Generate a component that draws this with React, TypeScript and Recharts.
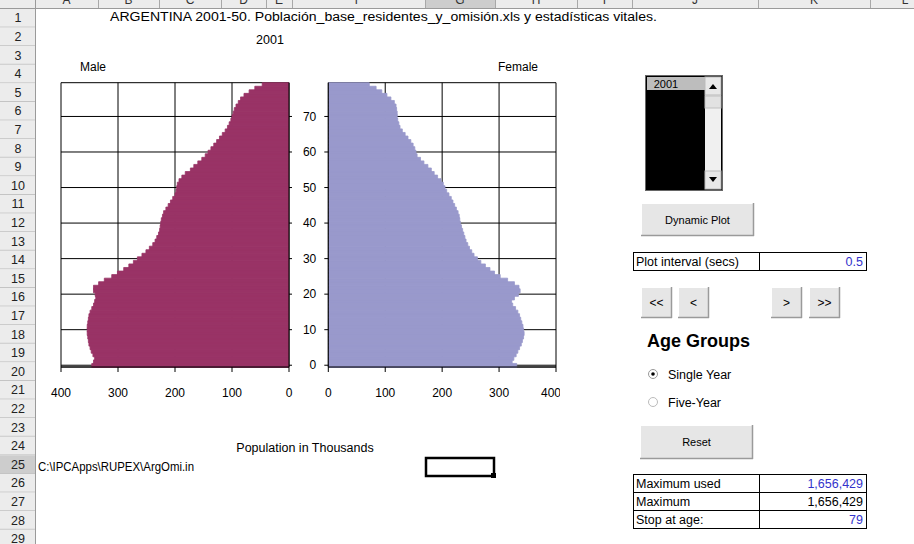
import { Bar, BarChart, CartesianGrid, XAxis, YAxis } from 'recharts';

// Single-year ages, bottom (0) to top (79)
const AGES = [
  0, 1, 2, 3, 4, 5, 6, 7, 8, 9, 10, 11, 12, 13, 14, 15, 16, 17, 18, 19,
  20, 21, 22, 23, 24, 25, 26, 27, 28, 29, 30, 31, 32, 33, 34, 35, 36, 37, 38, 39,
  40, 41, 42, 43, 44, 45, 46, 47, 48, 49, 50, 51, 52, 53, 54, 55, 56, 57, 58, 59,
  60, 61, 62, 63, 64, 65, 66, 67, 68, 69, 70, 71, 72, 73, 74, 75, 76, 77, 78, 79,
];

// Population in thousands
const MALE = [
  346, 343, 341, 344, 347, 349, 351, 352, 353, 354, 354, 354, 353, 352, 351, 349, 346, 343, 341, 339,
  340, 343, 343, 334, 324, 311, 301, 290, 281, 273, 266, 258, 251, 245, 239, 235, 232, 229, 227, 226,
  225, 224, 222, 220, 216, 212, 208, 204, 200, 198, 197, 196, 193, 188, 182, 173, 167, 160, 153, 147,
  142, 137, 132, 127, 122, 117, 112, 108, 105, 102, 100, 98, 96, 93, 89, 85, 79, 70, 60, 47,
];

const FEMALE = [
  331, 323, 326, 330, 333, 336, 339, 341, 343, 344, 343, 342, 340, 338, 336, 333, 329, 324, 322, 327,
  334, 337, 335, 327, 315, 302, 292, 284, 276, 268, 262, 256, 252, 248, 245, 242, 240, 238, 236, 234,
  232, 231, 230, 228, 225, 222, 219, 216, 212, 208, 205, 202, 198, 192, 186, 181, 175, 168, 162, 156,
  154, 152, 149, 145, 140, 135, 130, 126, 124, 122, 121, 121, 120, 119, 116, 110, 103, 94, 84, 72,
];

const POP_TICKS = [0, 100, 200, 300, 400];
const AGE_TICKS = [0, 10, 20, 30, 40, 50, 60, 70];

const COLUMNS = ['A', 'B', 'C', 'D', 'E', 'F', 'G', 'H', 'I', 'J', 'K', 'L'];
const COL_EDGES = [35, 98, 159, 221, 266, 292, 425, 495, 577, 632, 758, 870, 940];
const ROW_COUNT = 29;
const ROW_H = 18.6;
const HEAD_H = 8;

const FONT = '"Liberation Sans", Arial, sans-serif';
const MALE_FILL = '#993366';
const FEMALE_FILL = '#9999cc';
const BLUE = '#3333cc';

const rows = AGES.map((age, i) => ({ age, male: MALE[i], female: FEMALE[i] }));

function Button({ x, y, w, h, label, size = 11 }: { x: number; y: number; w: number; h: number; label: string; size?: number }) {
  return (
    <g>
      <rect x={x} y={y} width={w} height={h} fill="#e6e6e6" />
      <line x1={x} y1={y + 0.5} x2={x + w} y2={y + 0.5} stroke="#ffffff" />
      <line x1={x + 0.5} y1={y} x2={x + 0.5} y2={y + h} stroke="#ffffff" />
      <line x1={x} y1={y + h - 0.5} x2={x + w} y2={y + h - 0.5} stroke="#9a9a9a" strokeWidth={1.5} />
      <line x1={x + w - 0.5} y1={y} x2={x + w - 0.5} y2={y + h} stroke="#9a9a9a" strokeWidth={1.5} />
      <text x={x + w / 2} y={y + h / 2} textAnchor="middle" dominantBaseline="central" fontSize={size} fill="#000">
        {label}
      </text>
    </g>
  );
}

function TwoColTable({ y, labels, values, colors }: { y: number; labels: string[]; values: string[]; colors: string[] }) {
  const rowH = 18;
  return (
    <g>
      <rect x={633.5} y={y + 0.5} width={233} height={rowH * labels.length} fill="#fff" stroke="#000" />
      <line x1={759.5} y1={y} x2={759.5} y2={y + rowH * labels.length} stroke="#000" />
      {labels.map((l, i) => (
        <g key={l}>
          {i > 0 && <line x1={633} y1={y + i * rowH + 0.5} x2={866} y2={y + i * rowH + 0.5} stroke="#000" />}
          <text x={636} y={y + i * rowH + 14} fontSize={12.5} fill="#000">{l}</text>
          <text x={863} y={y + i * rowH + 14} fontSize={12.5} textAnchor="end" fill={colors[i]}>{values[i]}</text>
        </g>
      ))}
    </g>
  );
}

function Sheet() {
  const rowNums = Array.from({ length: ROW_COUNT }, (_, i) => i + 1);
  return (
    <svg width={914} height={544} style={{ position: 'absolute', left: 0, top: 0, fontFamily: FONT }}>
      <rect x={0} y={0} width={914} height={544} fill="#fff" />
      {/* column header strip, scrolled so only the bottom of the letters shows */}
      {COLUMNS.map((c, i) => (
        <g key={c}>
          <rect x={COL_EDGES[i]} y={-10} width={COL_EDGES[i + 1] - COL_EDGES[i]} height={18}
            fill={c === 'G' ? '#cdcdcd' : '#ececec'} />
          <line x1={COL_EDGES[i] + 0.5} y1={-10} x2={COL_EDGES[i] + 0.5} y2={HEAD_H} stroke="#a8a8a8" />
          <text x={(COL_EDGES[i] + COL_EDGES[i + 1]) / 2} y={4} textAnchor="middle" fontSize={12} fill="#333">{c}</text>
        </g>
      ))}
      <rect x={0} y={-10} width={35} height={18} fill="#ececec" />
      <line x1={0} y1={HEAD_H + 0.5} x2={914} y2={HEAD_H + 0.5} stroke="#9a9a9a" />
      {/* row header column */}
      {rowNums.map((r) => {
        const y0 = HEAD_H + (r - 1) * ROW_H;
        return (
          <g key={r}>
            <rect x={0} y={y0 + 1} width={35} height={ROW_H} fill={r === 25 ? '#cdcdcd' : '#ececec'} />
            <line x1={0} y1={y0 + ROW_H + 0.5} x2={35} y2={y0 + ROW_H + 0.5} stroke="#c4c4c4" />
            <text x={18} y={y0 + ROW_H / 2 + 1} textAnchor="middle" dominantBaseline="central" fontSize={12.5} fill="#222">{r}</text>
          </g>
        );
      })}
      <line x1={35.5} y1={-10} x2={35.5} y2={544} stroke="#9a9a9a" />

      {/* titles */}
      <text x={110} y={21} fontSize={12.5} textLength={547} lengthAdjust="spacingAndGlyphs" fill="#000">
        ARGENTINA 2001-50. Población_base_residentes_y_omisión.xls y estadísticas vitales.
      </text>
      <text x={270} y={44} textAnchor="middle" fontSize={12.5} fill="#000">2001</text>
      <text x={80} y={71} fontSize={12} fill="#000">Male</text>
      <text x={498} y={71} fontSize={12} fill="#000">Female</text>
      <text x={305} y={452} textAnchor="middle" fontSize={12.5} fill="#000">Population in Thousands</text>
      <text x={38} y={471} fontSize={12.5} textLength={156} lengthAdjust="spacingAndGlyphs" fill="#000">C:\IPCApps\RUPEX\ArgOmi.in</text>

      {/* active cell */}
      <rect x={426} y={458} width={68} height={18} fill="none" stroke="#000" strokeWidth={2.5} />
      <rect x={491} y={473} width={5} height={5} fill="#000" />

      {/* year list box */}
      <rect x={645.5} y={75.5} width={77} height={115} fill="#000" stroke="#666" />
      <rect x={647} y={77} width={58} height={13} fill="#bdbdbd" />
      <text x={666} y={84} textAnchor="middle" dominantBaseline="central" fontSize={11} fill="#000">2001</text>
      <rect x={705} y={77} width={16} height={112} fill="#f0f0f0" />
      <rect x={705} y={77} width={16} height={18} fill="#e8e8e8" stroke="#bbb" />
      <path d="M709 89 L713 84 L717 89 Z" fill="#000" />
      <rect x={705} y={96} width={16} height={12} fill="#e2e2e2" stroke="#c0c0c0" />
      <rect x={705} y={171} width={16} height={18} fill="#e8e8e8" stroke="#bbb" />
      <path d="M709 177 L717 177 L713 182 Z" fill="#000" />

      <Button x={641} y={203} w={113} h={33} label="Dynamic Plot" />

      <TwoColTable y={252} labels={['Plot interval (secs)']} values={['0.5']} colors={[BLUE]} />

      <Button x={641} y={287} w={31} h={31} label="<<" size={12} />
      <Button x={678} y={287} w={31} h={31} label="<" size={12} />
      <Button x={771} y={287} w={31} h={31} label=">" size={12} />
      <Button x={809} y={287} w={31} h={31} label=">>" size={12} />

      <text x={647} y={347} fontSize={18} fontWeight="bold" fill="#000">Age Groups</text>
      <circle cx={653} cy={374} r={4.5} fill="#fff" stroke="#999" />
      <circle cx={653} cy={374} r={1.8} fill="#000" />
      <text x={668} y={379} fontSize={12.5} fill="#000">Single Year</text>
      <circle cx={653} cy={402} r={4.5} fill="#fff" stroke="#bbb" />
      <text x={668} y={407} fontSize={12.5} fill="#000">Five-Year</text>

      <Button x={640} y={425} w={113} h={34} label="Reset" />

      <TwoColTable
        y={474}
        labels={['Maximum used', 'Maximum', 'Stop at age:']}
        values={['1,656,429', '1,656,429', '79']}
        colors={[BLUE, '#000', BLUE]}
      />
    </svg>
  );
}

const tickStyle = { fontSize: 12, fill: '#000', fontFamily: FONT };

function MalePyramid() {
  return (
    <div style={{ position: 'absolute', left: 40, top: 75 }}>
      <BarChart width={270} height={332} data={rows} layout="vertical" barCategoryGap={0}
        margin={{ top: 7.7, right: 0, left: 21, bottom: 0 }}>
        <CartesianGrid stroke="#000" />
        <XAxis type="number" domain={[0, 400]} ticks={POP_TICKS} reversed height={40} allowDataOverflow
          tickSize={5} tickMargin={16} tick={tickStyle} stroke="#000" />
        <YAxis type="category" dataKey="age" reversed ticks={AGE_TICKS} interval={0} orientation="right"
          width={21} tickFormatter={() => ''} tickSize={3} stroke="#000" />
        <Bar dataKey="male" fill={MALE_FILL} stroke={MALE_FILL} strokeWidth={0.8} isAnimationActive={false} />
      </BarChart>
    </div>
  );
}

function FemalePyramid() {
  return (
    <div style={{ position: 'absolute', left: 290, top: 75 }}>
      <BarChart width={270} height={332} data={rows} layout="vertical" barCategoryGap={0}
        margin={{ top: 7.7, right: 4, left: 8.3, bottom: 0 }}>
        <CartesianGrid stroke="#000" />
        <XAxis type="number" domain={[0, 400]} ticks={POP_TICKS} height={40} allowDataOverflow
          tickSize={5} tickMargin={16} tick={tickStyle} stroke="#000" />
        <YAxis type="category" dataKey="age" reversed ticks={AGE_TICKS} interval={0} width={30}
          tickSize={4} tickMargin={8} tick={tickStyle} stroke="#000" />
        <Bar dataKey="female" fill={FEMALE_FILL} stroke={FEMALE_FILL} strokeWidth={0.8} isAnimationActive={false} />
      </BarChart>
    </div>
  );
}

export default function App() {
  return (
    <div style={{ position: 'absolute', left: 0, top: 0, width: 914, height: 544, overflow: 'hidden', fontFamily: FONT }}>
      <Sheet />
      <MalePyramid />
      <FemalePyramid />
    </div>
  );
}
